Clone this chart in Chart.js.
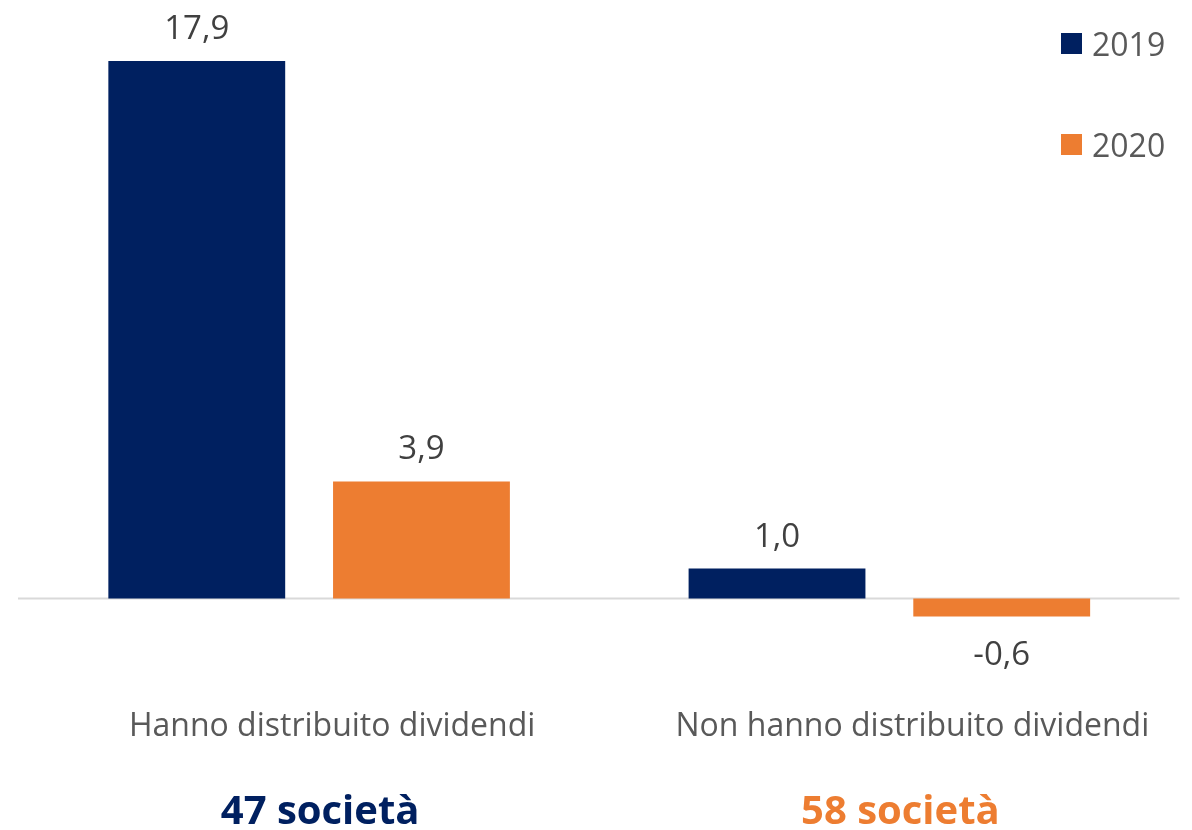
<!DOCTYPE html>
<html lang="it">
<head>
<meta charset="utf-8">
<title>Dividendi 2019-2020</title>
<script src="https://cdn.jsdelivr.net/npm/chart.js@4/dist/chart.umd.min.js"></script>
<style>
  html, body { margin: 0; padding: 0; background: #ffffff; }
  #wrap { width: 1192px; height: 830px; position: relative; }
</style>
</head>
<body>
<div id="wrap"><canvas id="chart" width="1192" height="830"></canvas></div>
<script>
// Categorie e serie
const categories = ['Hanno distribuito dividendi', 'Non hanno distribuito dividendi'];
const companyCounts = ['47 società', '58 società'];
const seriesNames = ['2019', '2020'];
const values2019 = [17.9, 1.0];
const values2020 = [3.9, -0.6];

const NAVY = '#002060';
const ORANGE = '#ED7D31';
const FONT = '"Open Sans", "Noto Sans", sans-serif';

const fmt = v => v.toFixed(1).replace('.', ',');

// Valori sopra (o sotto, se negativi) le barre
const valueLabels = {
  id: 'valueLabels',
  afterDatasetsDraw(chart) {
    const ctx = chart.ctx;
    ctx.save();
    ctx.font = '33px ' + FONT;
    ctx.fillStyle = '#404040';
    ctx.textAlign = 'center';
    ctx.textBaseline = 'alphabetic';
    chart.data.datasets.forEach((ds, di) => {
      chart.getDatasetMeta(di).data.forEach((bar, i) => {
        const v = ds.data[i];
        const y = v >= 0 ? bar.y - 22 : bar.y + 48;
        ctx.fillText(fmt(v), bar.x, y);
      });
    });
    ctx.restore();
  }
};

// Linea dello zero
const zeroLine = {
  id: 'zeroLine',
  beforeDatasetsDraw(chart) {
    const { ctx, chartArea, scales } = chart;
    const y = scales.y.getPixelForValue(0);
    ctx.save();
    ctx.strokeStyle = '#D9D9D9';
    ctx.lineWidth = 2;
    ctx.beginPath();
    ctx.moveTo(chartArea.left - 1, y);
    ctx.lineTo(chartArea.right, y);
    ctx.stroke();
    ctx.restore();
  }
};

// Legenda verticale in alto a destra
const sideLegend = {
  id: 'sideLegend',
  afterDraw(chart) {
    const ctx = chart.ctx;
    ctx.save();
    ctx.font = '32px ' + FONT;
    ctx.textBaseline = 'alphabetic';
    ctx.textAlign = 'left';
    chart.data.datasets.forEach((ds, i) => {
      const top = 33 + i * 101;
      ctx.fillStyle = ds.backgroundColor;
      ctx.fillRect(1061, top, 21, 21);
      ctx.fillStyle = '#595959';
      ctx.fillText(ds.label, 1092, top + 12 + 11);
    });
    ctx.restore();
  }
};

// Numero di società sotto ogni categoria
const companyLabels = {
  id: 'companyLabels',
  afterDraw(chart) {
    const ctx = chart.ctx;
    const x = chart.scales.x;
    const colors = [NAVY, ORANGE];
    ctx.save();
    ctx.font = 'bold 40px ' + FONT;
    ctx.textAlign = 'center';
    ctx.textBaseline = 'alphabetic';
    companyCounts.forEach((t, i) => {
      ctx.fillStyle = colors[i];
      ctx.fillText(t, x.getPixelForValue(i) + 11, 824);
    });
    ctx.restore();
  }
};

new Chart(document.getElementById('chart'), {
  type: 'bar',
  data: {
    labels: categories,
    datasets: [
      { label: seriesNames[0], data: values2019, backgroundColor: NAVY },
      { label: seriesNames[1], data: values2020, backgroundColor: ORANGE }
    ]
  },
  options: {
    responsive: false,
    animation: false,
    devicePixelRatio: 1,
    categoryPercentage: 0.7745,
    barPercentage: 0.787,
    layout: { padding: { left: 19, right: 7, top: 13, bottom: 20 } },
    plugins: {
      legend: { display: false },
      tooltip: { enabled: false }
    },
    scales: {
      x: {
        grid: { display: false, drawTicks: false },
        border: { display: false },
        ticks: {
          color: '#595959',
          font: { family: FONT, size: 32 },
          padding: 64,
          labelOffset: 23,
          maxRotation: 0,
          autoSkip: false
        }
      },
      y: {
        display: false,
        min: -1.5,
        max: 19.5
      }
    }
  },
  plugins: [zeroLine, valueLabels, sideLegend, companyLabels]
});
</script>
</body>
</html>
